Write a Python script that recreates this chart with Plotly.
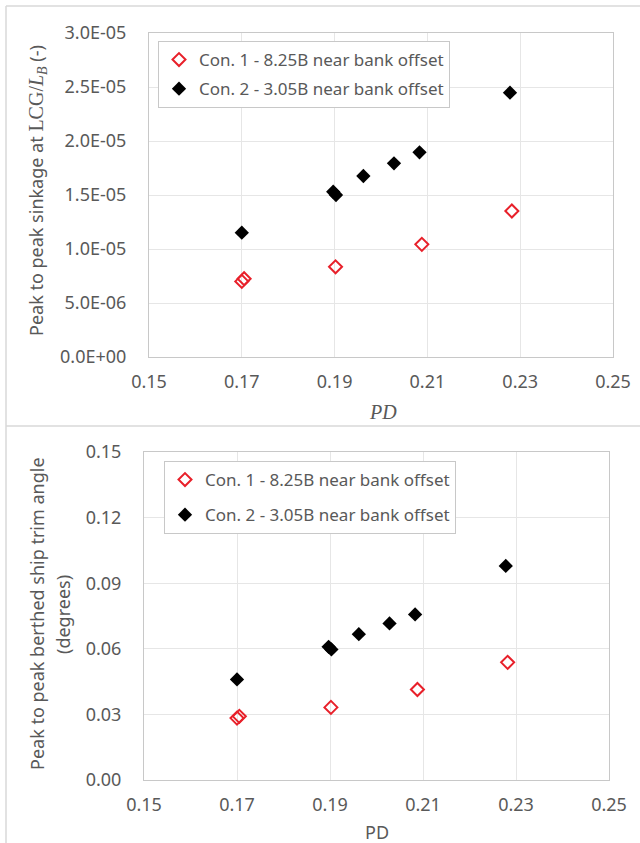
import plotly.graph_objects as go

# ---- data ----
pd_con1 = [0.1700, 0.1705, 0.1902, 0.2088, 0.2282]
sink_con1 = [7.0e-6, 7.25e-6, 8.35e-6, 1.043e-5, 1.352e-5]
trim_con1 = [0.0283, 0.0291, 0.0332, 0.0414, 0.0538]

pd_con2 = [0.1700, 0.1897, 0.1903, 0.1962, 0.2028, 0.2083, 0.2278]
sink_con2 = [1.151e-5, 1.530e-5, 1.500e-5, 1.676e-5, 1.793e-5, 1.895e-5, 2.447e-5]
trim_con2 = [0.0460, 0.0609, 0.0597, 0.0667, 0.0716, 0.0757, 0.0979]

name1 = "Con. 1 - 8.25B near bank offset"
name2 = "Con. 2 - 3.05B near bank offset"

x_ticks = [0.15, 0.17, 0.19, 0.21, 0.23, 0.25]
x_ticklabels = ["0.15", "0.17", "0.19", "0.21", "0.23", "0.25"]
sink_ticks = [0, 5e-6, 1e-5, 1.5e-5, 2e-5, 2.5e-5, 3e-5]
sink_ticklabels = ["0.0E+00", "5.0E-06", "1.0E-05", "1.5E-05", "2.0E-05", "2.5E-05", "3.0E-05"]
trim_ticks = [0.00, 0.03, 0.06, 0.09, 0.12, 0.15]
trim_ticklabels = ["0.00", "0.03", "0.06", "0.09", "0.12", "0.15"]

W, H = 640, 843
TXT = "#595959"
GRID = "#e6e6e6"
FONT = "Noto Sans"

def px(x):
    return x / W

def py(y):
    return 1 - y / H

fig = go.Figure()

red_marker = dict(symbol="diamond-open", size=10, color="#e8202a", line=dict(width=2, color="#e8202a"))
blk_marker = dict(symbol="diamond", size=11, color="#000000", line=dict(width=0))

fig.add_trace(go.Scatter(x=pd_con1, y=sink_con1, mode="markers", name=name1, marker=red_marker,
                         xaxis="x", yaxis="y", legend="legend", legendgroup="a"))
fig.add_trace(go.Scatter(x=pd_con2, y=sink_con2, mode="markers", name=name2, marker=blk_marker,
                         xaxis="x", yaxis="y", legend="legend", legendgroup="b"))
fig.add_trace(go.Scatter(x=pd_con1, y=trim_con1, mode="markers", name=name1, marker=red_marker,
                         xaxis="x2", yaxis="y2", legend="legend2", legendgroup="c"))
fig.add_trace(go.Scatter(x=pd_con2, y=trim_con2, mode="markers", name=name2, marker=blk_marker,
                         xaxis="x2", yaxis="y2", legend="legend2", legendgroup="d"))

axis_common = dict(showgrid=True, gridcolor=GRID, gridwidth=1, zeroline=False,
                   showline=True, linecolor="#c8c8c8", linewidth=1, mirror=True, automargin=False,
                   ticks="", tickfont=dict(family=FONT, size=18, color=TXT))

fig.update_layout(
    width=W, height=H,
    margin=dict(l=0, r=0, t=0, b=0, pad=0, autoexpand=False),
    paper_bgcolor="white", plot_bgcolor="white",
    font=dict(family=FONT, color=TXT),
    xaxis=dict(domain=[px(149), px(613)], range=[0.15, 0.25], tickvals=x_ticks, ticktext=x_ticklabels,
               anchor="y", ticklabelstandoff=8, **axis_common),
    yaxis=dict(domain=[py(357), py(33)], range=[0, 3e-5], tickvals=sink_ticks, ticktext=sink_ticklabels,
               anchor="x", ticklabelstandoff=18, **axis_common),
    xaxis2=dict(domain=[px(144), px(609)], range=[0.15, 0.25], tickvals=x_ticks, ticktext=x_ticklabels,
                anchor="y2", ticklabelstandoff=8, **axis_common),
    yaxis2=dict(domain=[py(780), py(452)], range=[0, 0.15], tickvals=trim_ticks, ticktext=trim_ticklabels,
                anchor="x2", ticklabelstandoff=18, **axis_common),
    legend=dict(x=px(158), y=py(41), xanchor="left", yanchor="top",
                bordercolor="#c8c8c8", borderwidth=1, bgcolor="white",
                font=dict(family=FONT, size=17, color=TXT), traceorder="grouped", tracegroupgap=4,
                itemwidth=30),
    legend2=dict(x=px(164), y=py(461), xanchor="left", yanchor="top",
                 bordercolor="#c8c8c8", borderwidth=1, bgcolor="white",
                 font=dict(family=FONT, size=17, color=TXT), traceorder="grouped", tracegroupgap=10,
                 itemwidth=30),
    showlegend=True,
)

# chart-area borders (left edge, top edge, divider between the two charts)
border = dict(color="#d9d9d9", width=1.5)
fig.add_shape(type="line", xref="paper", yref="paper", x0=px(6), x1=px(6), y0=0, y1=py(6), line=border)
fig.add_shape(type="line", xref="paper", yref="paper", x0=px(6), x1=1, y0=py(6), y1=py(6), line=border)
fig.add_shape(type="line", xref="paper", yref="paper", x0=px(6), x1=1, y0=py(426), y1=py(426), line=border)

serif = "Liberation Serif"
fig.add_annotation(xref="paper", yref="paper", x=px(37), y=py(191), xanchor="center", yanchor="middle",
                   textangle=-90, showarrow=False,
                   text=("Peak to peak sinkage at <span style='font-family:%s;font-size:20px'>LCG/<i>L</i>"
                         "<sub><i>B</i></sub></span> (-)" % serif),
                   font=dict(family=FONT, size=18, color=TXT))
fig.add_annotation(xref="paper", yref="paper", x=px(383), y=py(412), xanchor="center", yanchor="middle",
                   showarrow=False, text="<i>PD</i>", font=dict(family=serif, size=20, color=TXT))

fig.add_annotation(xref="paper", yref="paper", x=px(37), y=py(614), xanchor="center", yanchor="middle",
                   textangle=-90, showarrow=False,
                   text="Peak to peak berthed ship trim angle", font=dict(family=FONT, size=18, color=TXT))
fig.add_annotation(xref="paper", yref="paper", x=px(63), y=py(615), xanchor="center", yanchor="middle",
                   textangle=-90, showarrow=False,
                   text="(degrees)", font=dict(family=FONT, size=18, color=TXT))
fig.add_annotation(xref="paper", yref="paper", x=px(377), y=py(832), xanchor="center", yanchor="middle",
                   showarrow=False, text="PD", font=dict(family=FONT, size=18, color=TXT))

fig.write_html("out.html", config={"displayModeBar": False},
               post_script="document.body.style.margin='0px';document.body.style.overflow='hidden';")
